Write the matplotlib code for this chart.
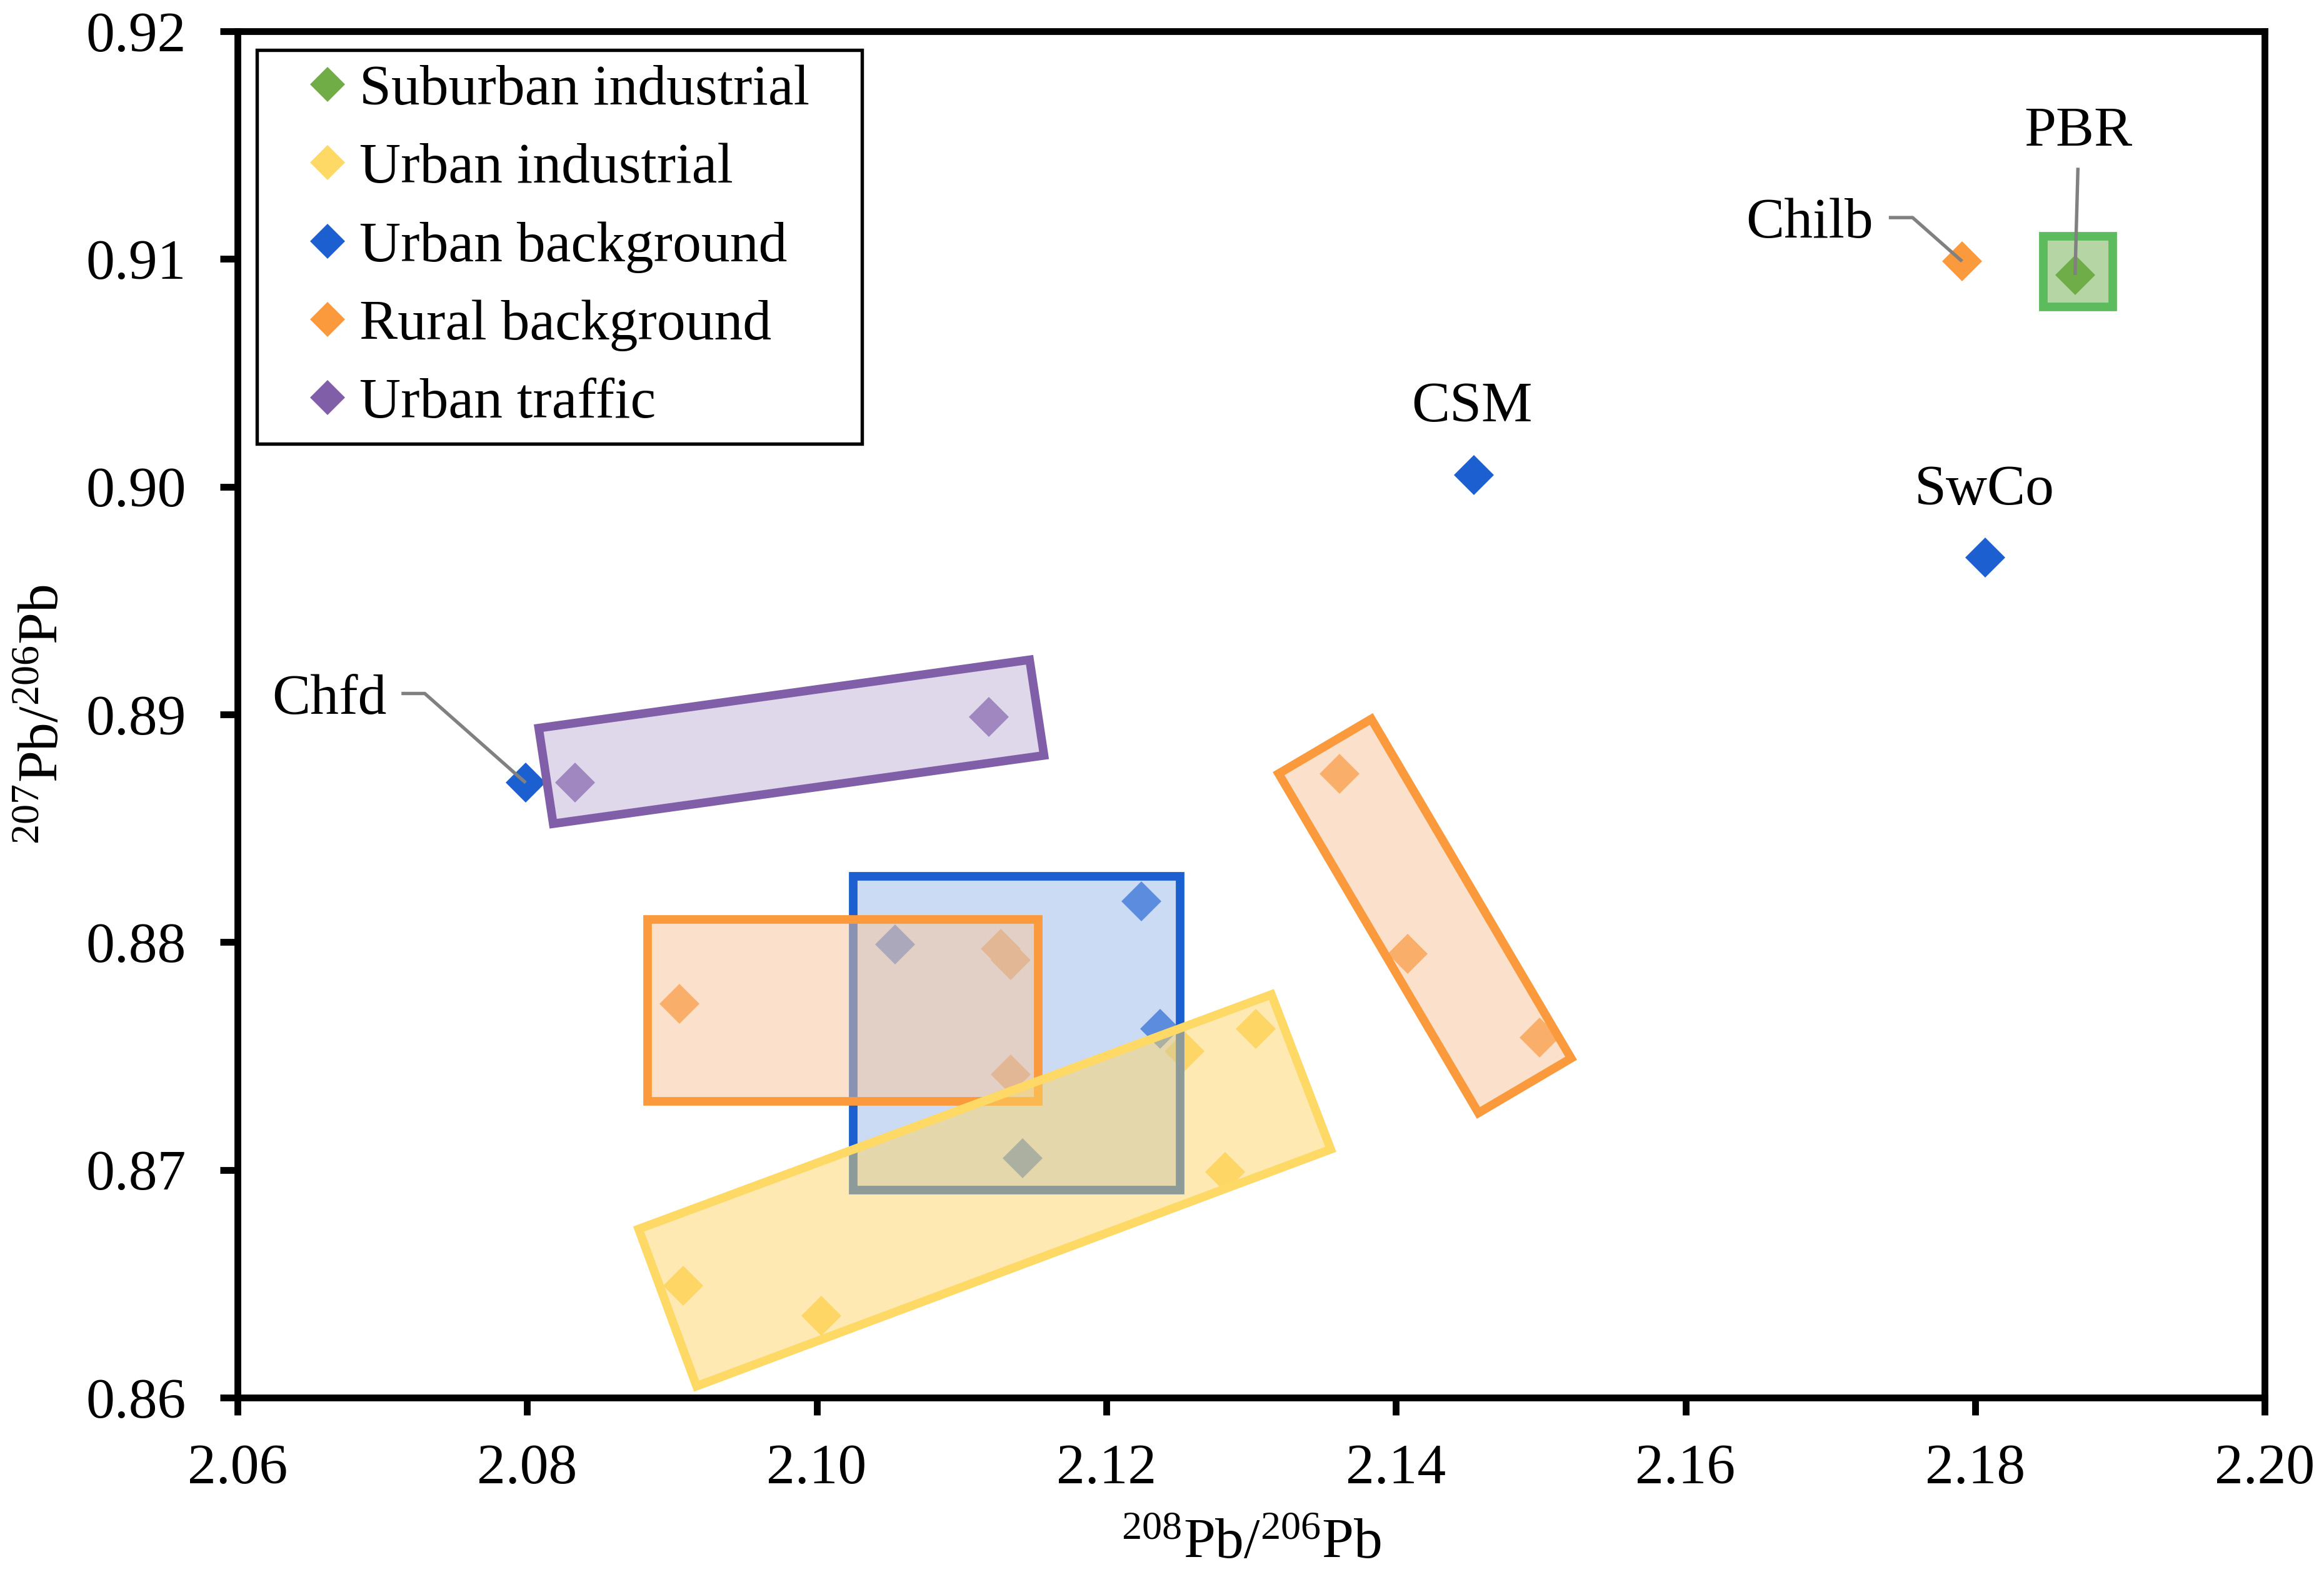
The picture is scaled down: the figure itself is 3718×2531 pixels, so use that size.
import numpy as np
import matplotlib
matplotlib.use("Agg")
import matplotlib.pyplot as plt
from matplotlib.patches import Polygon
from matplotlib.ticker import FormatStrFormatter

plt.rcParams["font.family"] = ["Liberation Serif", "DejaVu Serif"]
plt.rcParams["mathtext.fontset"] = "stix"

# ---- data (208Pb/206Pb, 207Pb/206Pb) ----
groups = ["Suburban industrial", "Urban industrial", "Urban background",
          "Rural background", "Urban traffic"]
colors = ["#70AD47", "#FFD966", "#1B5FD0", "#FA9A3C", "#805EA8"]

sub_ind_x = [2.1869]
sub_ind_y = [0.9093]
urb_ind_x = [2.0908, 2.1003, 2.1254, 2.1303, 2.1282]
urb_ind_y = [0.8649, 0.8636, 0.8752, 0.8762, 0.8699]
urb_bg_x = [2.0799, 2.1054, 2.1224, 2.1237, 2.1142, 2.1454, 2.1807]
urb_bg_y = [0.8870, 0.8799, 0.8818, 0.8762, 0.8705, 0.9005, 0.8969]
rur_bg_x = [2.0905, 2.1127, 2.1134, 2.1134, 2.1361, 2.1408, 2.1499, 2.1791]
rur_bg_y = [0.8773, 0.8797, 0.8792, 0.8742, 0.8874, 0.8795, 0.8758, 0.9099]
traffic_x = [2.0833, 2.1119]
traffic_y = [0.8870, 0.8899]

series_x = [sub_ind_x, urb_ind_x, urb_bg_x, rur_bg_x, traffic_x]
series_y = [sub_ind_y, urb_ind_y, urb_bg_y, rur_bg_y, traffic_y]

# grouping envelopes (vertices in data units), drawn in this order
blue_box = [(2.1025, 0.8829), (2.1251, 0.8829), (2.1251, 0.8691), (2.1025, 0.8691)]
orange_box = [(2.0883, 0.8810), (2.1153, 0.8810), (2.1153, 0.8730), (2.0883, 0.8730)]
orange_tilt = [(2.1319, 0.8874), (2.1383, 0.8898), (2.1521, 0.8749), (2.1457, 0.8725)]
yellow_tilt = [(2.0877, 0.8674), (2.1314, 0.8777), (2.1355, 0.8709), (2.0917, 0.8605)]
purple_tilt = [(2.0808, 0.8894), (2.1147, 0.8924), (2.1157, 0.8882), (2.0818, 0.8852)]
green_box = [(2.1847, 0.9110), (2.1895, 0.9110), (2.1895, 0.9079), (2.1847, 0.9079)]
envelopes = [blue_box, orange_box, orange_tilt, yellow_tilt, purple_tilt, green_box]
env_edge = ["#1B5FD0", "#FA9A3C", "#FA9A3C", "#FFD966", "#805EA8", "#5CBB5C"]
env_face = [(155, 185, 235), (249, 197, 153), (249, 197, 153),
            (253, 213, 101), (193, 177, 215), (111, 173, 75)]

# site labels (baseline positions) and leader lines
site_names = ["Chfd", "CSM", "SwCo", "Chilb", "PBR"]
site_x = [2.06633, 2.14525, 2.18066, 2.16859, 2.18711]
site_y = [0.89004, 0.90287, 0.89923, 0.91094, 0.91494]
leader_chfd = [(2.07132, 0.89092), (2.07293, 0.89092), (2.0799, 0.8870)]
leader_chilb = [(2.17404, 0.91182), (2.17568, 0.91182), (2.1791, 0.9099)]
leader_pbr = [(2.18710, 0.91401), (2.1869, 0.9093)]
leaders = [leader_chfd, leader_chilb, leader_pbr]

fig = plt.figure(figsize=(3718 / 300, 2531 / 300), dpi=300)
ax = fig.add_axes([0.1022, 0.1166, 0.8723, 0.8636])

for name, c, xs, ys in zip(groups, colors, series_x, series_y):
    ax.plot(xs, ys, ls="none", marker="D", ms=11, color=c, mec="none",
            label=name, zorder=2)

for verts, ec, fc in zip(envelopes, env_edge, env_face):
    face = tuple(v / 255 for v in fc) + (0.5,)
    ax.add_patch(Polygon(verts, closed=True, facecolor=face, edgecolor=ec,
                         lw=3.3, joinstyle="miter", zorder=3))

for pts in leaders:
    lx, ly = zip(*pts)
    ax.plot(lx, ly, color="#808080", lw=1.3, solid_capstyle="butt", zorder=4)

for name, x, y in zip(site_names, site_x, site_y):
    ax.text(x, y, name, ha="center", va="baseline", fontsize=22, zorder=5)

ax.set_xlim(2.06, 2.20)
ax.set_ylim(0.86, 0.92)
ax.set_xticks(np.linspace(2.06, 2.20, 8))
ax.set_yticks(np.linspace(0.86, 0.92, 7))
ax.xaxis.set_major_formatter(FormatStrFormatter("%.2f"))
ax.yaxis.set_major_formatter(FormatStrFormatter("%.2f"))
for s in ax.spines.values():
    s.set_linewidth(2.6)
ax.tick_params(direction="out", length=6.7, width=2.6, labelsize=22)
ax.tick_params(axis="x", pad=11)
ax.tick_params(axis="y", pad=13)

ax.set_xlabel(r"$\mathregular{^{208}}$Pb/$\mathregular{^{206}}$Pb",
              fontsize=22, labelpad=9)
ax.set_ylabel(r"$\mathregular{^{207}}$Pb/$\mathregular{^{206}}$Pb",
              fontsize=22, labelpad=6)

leg = ax.legend(loc="upper left", bbox_to_anchor=(0.1105, 0.7211, 0.2604, 0.2473),
                bbox_transform=fig.transFigure, mode="expand", borderaxespad=0,
                borderpad=0.25, labelspacing=0.46, handlelength=1.97,
                handletextpad=-0.43, fancybox=False, edgecolor="black",
                framealpha=1, markerscale=0.87, fontsize=22)
leg.get_frame().set_linewidth(1.3)

fig.savefig("out.png", dpi=300)
